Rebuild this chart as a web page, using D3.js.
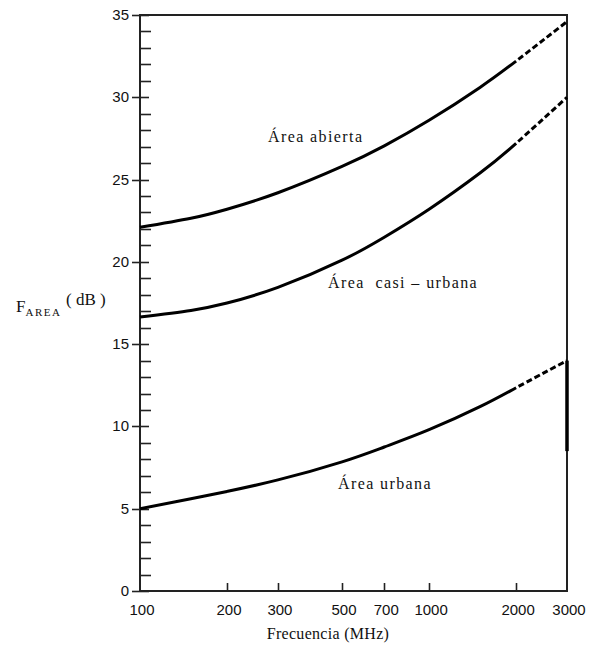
<!DOCTYPE html>
<meta charset="utf-8">
<html lang="es">
<head>
	<meta charset="utf-8">
	<title> F AREA vs frecuencia </title>
	<script type="text/javascript" src="https://cdn.jsdelivr.net/npm/d3@7"></script>
	<style type="text/css">
		body { margin: 0; background: white; }
		text { fill: #111; }
	</style>
</head>
<body>
	<script type="text/javascript">

// DATA
		var freqs   = [100, 150, 200, 300, 500, 700, 1000, 1500, 2000, 3000];
		var abierta = [22.1, 22.65, 23.2, 24.2, 25.8, 27.05, 28.6, 30.6, 32.2, 34.6];
		var casi    = [16.65, 17.05, 17.5, 18.45, 20.1, 21.5, 23.2, 25.4, 27.2, 30.0];
		var urbana  = [5.0, 5.6, 6.05, 6.75, 7.85, 8.75, 9.8, 11.2, 12.35, 14.0];
		var xTicks  = [100, 200, 300, 500, 700, 1000, 2000, 3000];
		var yTicks  = [0, 5, 10, 15, 20, 25, 30, 35];
		var dashFrom = 2000;          // beyond this the curves are dashed
		var endBar  = [14.0, 8.5];    // vertical bar at 3000 MHz

		var series = [
			{ name: "Área abierta", values: abierta, lx: 268, ly: 142 },
			{ name: "Área  casi – urbana", values: casi, lx: 328, ly: 288 },
			{ name: "Área urbana", values: urbana, lx: 338, ly: 489 }
		];

// SIZES
		var w = 593;
		var h = 647;
		var pLeft = 140, pRight = 567, pTop = 15, pBottom = 591;

		var svg = d3.select("body")
			.append("svg")
			.attr("width", w)
			.attr("height", h);

		var x = d3.scaleLog().domain([100, 3000]).range([pLeft, pRight]);
		var y = d3.scaleLinear().domain([0, 35]).range([pBottom, pTop]);

// FRAME
		svg.append("path")
			.attr("d", "M" + pLeft + "," + pTop + "H" + pRight + "V" + pBottom + "H" + pLeft + "Z")
			.attr("fill", "none")
			.attr("stroke", "#222")
			.attr("stroke-width", 2);

// Y MINOR TICKS (every 1 dB, inward)
		svg.selectAll("line.yminor")
			.data(d3.range(1, 35).filter(function(d) { return d % 5 !== 0; }))
			.enter()
			.append("line")
			.attr("x1", pLeft).attr("x2", pLeft + 11)
			.attr("y1", function(d) { return Math.round(y(d)) + 0.5; })
			.attr("y2", function(d) { return Math.round(y(d)) + 0.5; })
			.attr("stroke", "#222")
			.attr("stroke-width", 1.6);

// Y MAJOR TICKS
		svg.selectAll("line.ymajor")
			.data(yTicks)
			.enter()
			.append("line")
			.attr("x1", pLeft - 8).attr("x2", pLeft + 9)
			.attr("y1", function(d) { return Math.round(y(d)) + 0.5; })
			.attr("y2", function(d) { return Math.round(y(d)) + 0.5; })
			.attr("stroke", "#222")
			.attr("stroke-width", 1.6);

		svg.selectAll("text.ylab")
			.data(yTicks)
			.enter()
			.append("text")
			.text(function(d) { return d; })
			.attr("x", pLeft - 11)
			.attr("y", function(d) { return y(d) + 5; })
			.attr("text-anchor", "end")
			.attr("font-family", "Liberation Sans, sans-serif")
			.attr("font-size", "15px");

// X TICKS
		svg.selectAll("line.xtick")
			.data(xTicks.slice(1, -1))
			.enter()
			.append("line")
			.attr("x1", function(d) { return Math.round(x(d)) + 0.5; })
			.attr("x2", function(d) { return Math.round(x(d)) + 0.5; })
			.attr("y1", pBottom).attr("y2", pBottom - 8)
			.attr("stroke", "#222")
			.attr("stroke-width", 1.6);

		svg.selectAll("text.xlab")
			.data(xTicks)
			.enter()
			.append("text")
			.text(function(d) { return d; })
			.attr("x", function(d) { return x(d) + 2; })
			.attr("y", 615)
			.attr("text-anchor", "middle")
			.attr("font-family", "Liberation Sans, sans-serif")
			.attr("font-size", "15px");

// CURVES (solid up to 2000 MHz, dashed after)
		var line = d3.line()
			.x(function(d) { return x(d[0]); })
			.y(function(d) { return y(d[1]); })
			.curve(d3.curveNatural);

		series.forEach(function(s) {
			var pts = freqs.map(function(f, i) { return [f, s.values[i]]; });

			svg.append("path")
				.attr("d", line(pts))
				.attr("fill", "none")
				.attr("stroke", "black")
				.attr("stroke-width", 3)
				.each(function() {
					var total = this.getTotalLength();
					var lo = 0, hi = total;
					for (var k = 0; k < 30; k++) {
						var mid = (lo + hi) / 2;
						if (this.getPointAtLength(mid).x < x(dashFrom)) lo = mid; else hi = mid;
					}
					var arr = [lo, 3];
					for (var t = lo; t < total; t += 9) arr.push(6, 3);
					d3.select(this).attr("stroke-dasharray", arr.join(","));
				});

			svg.append("text")
				.text(s.name)
				.attr("x", s.lx)
				.attr("y", s.ly)
				.style("white-space", "pre")
				.attr("letter-spacing", "1.4px")
				.attr("font-family", "Liberation Serif, serif")
				.attr("font-size", "16px");
		});

// END BAR AT 3000
		svg.append("line")
			.attr("x1", x(3000)).attr("x2", x(3000))
			.attr("y1", y(endBar[0])).attr("y2", y(endBar[1]))
			.attr("stroke", "black")
			.attr("stroke-width", 3.5);

// AXIS TITLES
		var yt = svg.append("text")
			.attr("x", 16)
			.attr("y", 312)
			.attr("font-family", "Liberation Serif, serif")
			.attr("font-size", "17px");
		yt.append("tspan").text("F");
		yt.append("tspan").text("AREA").attr("font-size", "11px").attr("letter-spacing", "1.5px").attr("dy", 4);
		yt.append("tspan").text("( dB )").attr("x", 66).attr("dy", -11).attr("font-size", "17px");

		svg.append("text")
			.text("Frecuencia (MHz)")
			.attr("x", 328)
			.attr("y", 639)
			.attr("text-anchor", "middle")
			.attr("letter-spacing", "0.3px")
			.attr("font-family", "Liberation Serif, serif")
			.attr("font-size", "16px");

	</script>
</body>
</html>
